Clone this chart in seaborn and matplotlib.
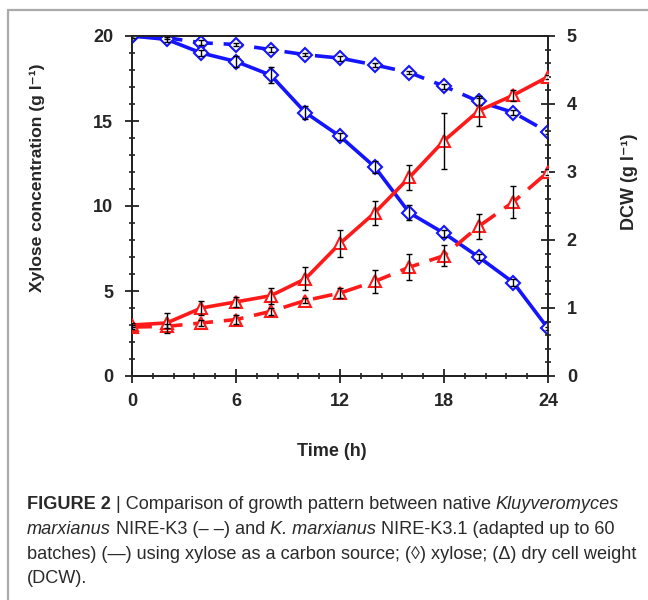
import numpy as np
import pandas as pd
import seaborn as sns
import matplotlib.pyplot as plt
from matplotlib.ticker import MultipleLocator
from matplotlib.lines import Line2D

# data
time_h = [0, 2, 4, 6, 8, 10, 12, 14, 16, 18, 20, 22, 24]

xyl_adapted = [20.0, 19.8, 19.0, 18.5, 17.7, 15.5, 14.1, 12.3, 9.6, 8.4, 7.0, 5.5, 2.8]
xyl_adapted_err = [0.1, 0.15, 0.2, 0.3, 0.45, 0.4, 0.2, 0.35, 0.45, 0.2, 0.15, 0.2, 0.1]
xyl_native = [20.0, 19.9, 19.6, 19.5, 19.2, 18.9, 18.7, 18.3, 17.85, 17.05, 16.15, 15.5, 14.35]
xyl_native_err = [0.1, 0.1, 0.15, 0.1, 0.15, 0.1, 0.15, 0.1, 0.1, 0.15, 0.2, 0.15, 0.1]

dcw_adapted = [0.75, 0.78, 1.0, 1.09, 1.18, 1.43, 1.95, 2.4, 2.92, 3.46, 3.9, 4.13, 4.4]
dcw_adapted_err = [0.03, 0.15, 0.1, 0.07, 0.12, 0.17, 0.2, 0.18, 0.18, 0.41, 0.22, 0.08, 0.03]
dcw_native = [0.72, 0.73, 0.78, 0.83, 0.95, 1.11, 1.22, 1.39, 1.6, 1.77, 2.2, 2.56, 3.0]
dcw_native_err = [0.03, 0.03, 0.05, 0.06, 0.05, 0.04, 0.07, 0.17, 0.19, 0.15, 0.18, 0.24, 0.05]

caption = [
    [("FIGURE 2", "bold", "normal"), (" | Comparison of growth pattern between native ", "normal", "normal"),
     ("Kluyveromyces", "normal", "italic")],
    [("marxianus", "normal", "italic"), (" NIRE-K3 (\u2013 \u2013) and ", "normal", "normal"),
     ("K. marxianus", "normal", "italic"), (" NIRE-K3.1 (adapted up to 60", "normal", "normal")],
    [("batches) (\u2014) using xylose as a carbon source; (\u25CA) xylose; (\u0394) dry cell weight", "normal", "normal")],
    [("(DCW).", "normal", "normal")],
]

sns.set_style("ticks")
plt.rcParams['font.family'] = ['Liberation Sans', 'DejaVu Sans']

df = pd.DataFrame({"time": time_h, "xa": xyl_adapted, "xn": xyl_native,
                   "da": dcw_adapted, "dn": dcw_native})

fig = plt.figure(figsize=(6.48, 6.0), dpi=100)
ax = fig.add_axes([132 / 648, 1 - 376 / 600, 416 / 648, 340 / 600])
ax2 = ax.twinx()

blue = "#1414ff"
red = "#ff1a1a"
dash = (0, (5.5, 3))

# xylose on left axis
sns.lineplot(data=df, x="time", y="xn", ax=ax, color=blue, lw=2.6, linestyle=dash,
             marker="D", ms=7, mfc="white", mec=blue, mew=1.5, zorder=3)
sns.lineplot(data=df, x="time", y="xa", ax=ax, color=blue, lw=2.6,
             marker="D", ms=7, mfc="white", mec=blue, mew=1.5, zorder=3)
ax.errorbar(time_h, xyl_native, yerr=xyl_native_err, fmt="none", ecolor="black", elinewidth=1, capsize=2.5, zorder=4)
ax.errorbar(time_h, xyl_adapted, yerr=xyl_adapted_err, fmt="none", ecolor="black", elinewidth=1, capsize=2.5, zorder=4)

# DCW on right axis
sns.lineplot(data=df, x="time", y="dn", ax=ax2, color=red, lw=2.6, linestyle=dash,
             marker="^", ms=9, mfc="white", mec=red, mew=1.5, zorder=3)
sns.lineplot(data=df, x="time", y="da", ax=ax2, color=red, lw=2.6,
             marker="^", ms=9, mfc="white", mec=red, mew=1.5, zorder=3)
ax2.errorbar(time_h, dcw_native, yerr=dcw_native_err, fmt="none", ecolor="black", elinewidth=1, capsize=2.5, zorder=4)
ax2.errorbar(time_h, dcw_adapted, yerr=dcw_adapted_err, fmt="none", ecolor="black", elinewidth=1, capsize=2.5, zorder=4)

ax.set_xlim(0, 24)
ax.set_ylim(0, 20)
ax2.set_ylim(0, 5)
ax.xaxis.set_major_locator(MultipleLocator(6))
ax.xaxis.set_minor_locator(MultipleLocator(1.2))
ax.yaxis.set_major_locator(MultipleLocator(5))
ax.yaxis.set_minor_locator(MultipleLocator(1))
ax2.yaxis.set_major_locator(MultipleLocator(1))
ax2.yaxis.set_minor_locator(MultipleLocator(0.2))

for a in (ax, ax2):
    for s in a.spines.values():
        s.set_visible(True)
        s.set_linewidth(1.3)
        s.set_color("#222222")
    a.tick_params(which="major", direction="inout", length=10, width=1.3, color="#222222",
                  labelsize=13, pad=8.5)
    a.tick_params(which="minor", direction="inout", length=5, width=1.2, color="#222222")
    for lab in a.get_xticklabels() + a.get_yticklabels():
        lab.set_fontweight("bold")
ax.tick_params(axis="x", which="major", pad=7)
ax2.tick_params(axis="y", which="both", right=True, left=False)

ax.set_xlabel("Time (h)", fontsize=13, fontweight="bold")
ax.xaxis.set_label_coords((332 - 132) / 416, (376 - 452) / 340)
ax.xaxis.label.set_va("center")

ax.set_ylabel("Xylose concentration (g l\u207b\u00b9)", fontsize=12.6, fontweight="bold")
ax.yaxis.set_label_coords((37 - 132) / 416, (376 - 178) / 340)
ax.yaxis.label.set_va("center")
ax.yaxis.label.set_ha("center")

ax2.set_ylabel("DCW (g l\u207b\u00b9)", fontsize=13, fontweight="bold", rotation=90)
ax2.yaxis.set_label_coords((630 - 132) / 416, (376 - 182) / 340)
ax2.yaxis.label.set_va("center")
ax2.yaxis.label.set_ha("center")
ax.grid(False)
ax2.grid(False)

# border lines of the figure panel
fig.add_artist(Line2D([8 / 648, 8 / 648], [0, 1 - 10 / 600], transform=fig.transFigure, color="#aaaaaa", lw=1.6))
fig.add_artist(Line2D([8 / 648, 1], [1 - 10 / 600, 1 - 10 / 600], transform=fig.transFigure, color="#aaaaaa", lw=1.6))

# caption, drawn piece by piece
fig.canvas.draw()
renderer = fig.canvas.get_renderer()
baselines = [509, 534, 559, 583]
for line, yb in zip(caption, baselines):
    x = 27 / 648
    for txt, weight, style in line:
        t = fig.text(x, 1 - yb / 600, txt, fontsize=13.1, fontweight=weight, fontstyle=style,
                     color="#2a2a2a", va="baseline", ha="left")
        bb = t.get_window_extent(renderer)
        x = bb.x1 / fig.bbox.width

fig.savefig("out.png", dpi=100)
